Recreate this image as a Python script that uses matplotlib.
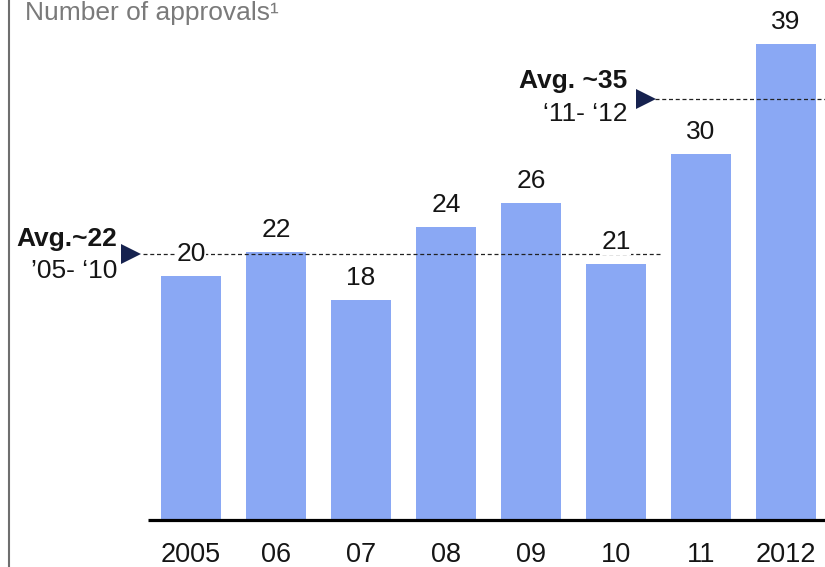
import matplotlib
matplotlib.use("Agg")
import matplotlib.pyplot as plt
import numpy as np

years = ["2005", "06", "07", "08", "09", "10", "11", "2012"]
approvals = [20, 22, 18, 24, 26, 21, 30, 39]
avg_early = np.mean(approvals[:6])   # '05-'10
avg_late = np.mean(approvals[6:])    # '11-'12

bar_color = "#8aa8f4"
text_color = "#151515"
plt.rcParams["font.family"] = ["Liberation Sans", "DejaVu Sans"]

W, H = 825, 567
fig = plt.figure(figsize=(W / 100, H / 100), dpi=100)
ax = fig.add_axes([0, 0, 1, 1])
ax.set_xlim(-2.247, 7.459)
ax.set_ylim(-3.85, 42.62)
ax.axis("off")

x = np.arange(len(years))
ax.bar(x, approvals, width=0.7, color=bar_color, zorder=2)

# baseline
ax.plot([-0.51, 7.6], [0, 0], color="black", lw=2.3, zorder=3,
        solid_capstyle="butt")

# value labels above bars
for xi, v in zip(x, approvals):
    ax.text(xi, v + 1.8, str(v), ha="center", va="center", fontsize=19,
            color=text_color, zorder=5,
            bbox=dict(facecolor="white", edgecolor="none", pad=0.5))

# year labels under baseline
for xi, lab in zip(x, years):
    ax.text(xi, -2.85, lab, ha="center", va="center", fontsize=19.5,
            color=text_color)

dash = (0, (3.2, 2.2))

# '05-'10 average
ax.plot([-0.565, 5.52], [avg_early, avg_early], ls=dash, color="#222222",
        lw=0.9, zorder=4)
ax.plot([-0.7], [avg_early], marker=">", color="#16224f", markersize=14,
        zorder=4, markeredgewidth=0)
ax.text(-0.87, avg_early + 1.2, "Avg.~22", ha="right", va="center",
        fontsize=19, fontweight="bold", color=text_color)
ax.text(-0.87, avg_early - 1.45, "’05- ‘10", ha="right", va="center",
        fontsize=19, color=text_color)

# '11-'12 average
ax.plot([5.46, 7.6], [avg_late, avg_late], ls=dash, color="#222222",
        lw=0.9, zorder=4)
ax.plot([5.35], [avg_late], marker=">", color="#16224f", markersize=14,
        zorder=4, markeredgewidth=0)
ax.text(5.13, avg_late + 1.5, "Avg. ~35", ha="right", va="center",
        fontsize=19, fontweight="bold", color=text_color)
ax.text(5.13, avg_late - 1.25, "‘11- ‘12", ha="right", va="center",
        fontsize=19, color=text_color)

# title
fig.text(25 / W, 1 - 20 / H, "Number of approvals\u00b9", ha="left",
         va="baseline", fontsize=19, color="#7a7a7a")

# left rule
fig.add_artist(plt.Line2D([9 / W, 9 / W], [0, 1], color="#6e6e6e", lw=1.5,
                          transform=fig.transFigure))

fig.savefig("out.png", dpi=100)
